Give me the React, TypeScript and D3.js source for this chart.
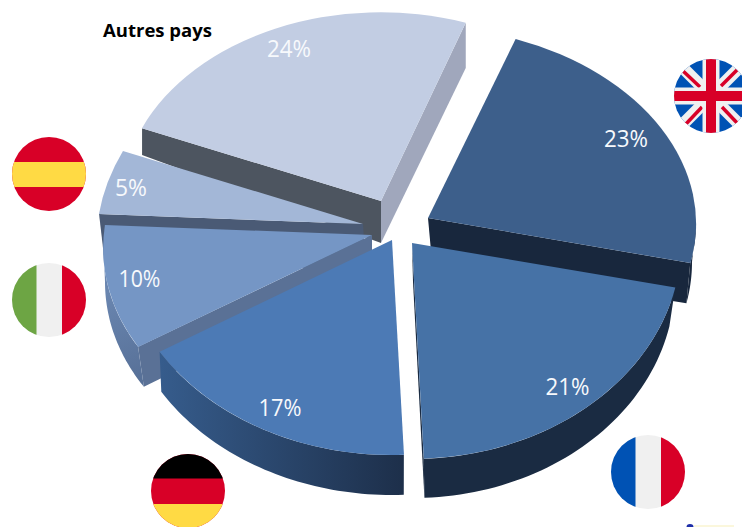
import React from "react";
import * as d3 from "d3";

// ---- data ----
const categories = ["Autres pays", "Royaume-Uni", "France", "Allemagne", "Italie", "Espagne"];
const shares = [24, 23, 21, 17, 10, 5];
const shareLabels = ["24%", "23%", "21%", "17%", "10%", "5%"];

// ---- layout (perspective of each exploded slice) ----
type Proj = { cx: number; cy: number; rx: number; ry: number; sk: number; xs: number };
const topFaces: Proj[] = [
  { cx: 381, cy: 201, rx: 259, ry: 188.7, sk: 0, xs: 0 },
  { cx: 428, cy: 218, rx: 268, ry: 191.5, sk: 5.7, xs: 0 },
  { cx: 412, cy: 243, rx: 269, ry: 216, sk: 0, xs: 0 },
  { cx: 392, cy: 240, rx: 272, ry: 215, sk: 0, xs: 0 },
  { cx: 372, cy: 235, rx: 268.6, ry: 204, sk: -6.8, xs: 8.5 },
  { cx: 363, cy: 224, rx: 266, ry: 205.6, sk: -6.9, xs: 14.2 },
];
const bottomFaces: Proj[] = [
  { cx: 381, cy: 243, rx: 259, ry: 190.6, sk: 15.6, xs: 0 },
  { cx: 432, cy: 262, rx: 260, ry: 200, sk: 0, xs: 0 },
  { cx: 413, cy: 282, rx: 262, ry: 216, sk: 0, xs: 0 },
  { cx: 392, cy: 280, rx: 270, ry: 215, sk: 0, xs: 0 },
  { cx: 372, cy: 275, rx: 267, ry: 204, sk: -6.8, xs: 0 },
  { cx: 366, cy: 272, rx: 263, ry: 200, sk: 0, xs: 0 },
];
const topColors = ["#c2cde3", "#3d5f8b", "#4672a6", "#4c7ab5", "#7596c5", "#a3b7d7"];
const rimFills = ["#a0a7bc", "#18273d", "#1a2b42", "url(#rimDe)", "url(#rimIt)", "#4a5a75"];
const startCutFills = ["#4d5560", "", "", "", "#5a7196", "#4a5a75"];
const endCutFills = ["#a0a7bc", "#18273d", "#1a2b42", "", "", ""];
const labelX = [289, 626, 567.5, 280, 139.5, 131];
const labelBaseline = [57, 147, 395, 416, 287, 196];
const labelWidth = [44, 44, 44, 43, 42, 32];
const drawOrder = [0, 5, 1, 4, 3, 2];

const deg = Math.PI / 180;
const pie = d3.pie<number>().sort(null).startAngle(-67.3 * deg).endAngle(292.7 * deg);
const arcs = pie(shares);
const unitArc = d3.arc<d3.PieArcDatum<number>>().innerRadius(0).outerRadius(1);
const polyLine = d3.line<[number, number]>().curve(d3.curveLinear);

const project = (p: Proj, a: number): [number, number] => [
  p.cx + p.rx * Math.sin(a) + p.xs * Math.cos(a),
  p.cy - p.ry * Math.cos(a) + p.sk * Math.sin(a),
];
const centre = (p: Proj): [number, number] => [p.cx, p.cy];

function rimPath(i: number): string | null {
  const a0 = Math.max(arcs[i].startAngle, 90 * deg);
  const a1 = Math.min(arcs[i].endAngle, 270 * deg);
  if (a1 <= a0) return null;
  const n = 48;
  const angles = d3.range(n + 1).map((k) => a0 + ((a1 - a0) * k) / n);
  const pts = [
    ...angles.map((a) => project(topFaces[i], a)),
    ...angles.slice().reverse().map((a) => project(bottomFaces[i], a)),
  ];
  return polyLine(pts) + "Z";
}
function cutPath(i: number, a: number): string {
  return (
    polyLine([
      centre(topFaces[i]),
      project(topFaces[i], a),
      project(bottomFaces[i], a),
      centre(bottomFaces[i]),
    ]) + "Z"
  );
}

const BLUE = "#0052b4", WHITE = "#f0f0f0", RED = "#d80027", GREEN = "#6da544", YELLOW = "#ffda44";
const R = 37;

function Flag({ id, cx, cy, children }: { id: string; cx: number; cy: number; children: React.ReactNode }) {
  return (
    <g transform={`translate(${cx},${cy})`} clipPath={`url(#${id})`}>
      <clipPath id={id}>
        <circle r={R} />
      </clipPath>
      {children}
    </g>
  );
}
const Band = ({ x, y, w, h, f }: any) => <rect x={x} y={y} width={w} height={h} fill={f} />;

export default function App() {
  return (
    <svg
      width={742}
      height={527}
      style={{ position: "absolute", left: 0, top: 0, background: "#fff", display: "block" }}
      fontFamily="'Open Sans', sans-serif"
    >
      <defs>
        <linearGradient id="rimDe" gradientUnits="userSpaceOnUse" x1={160} x2={404} y1={0} y2={0}>
          <stop offset="0" stopColor="#365c8c" />
          <stop offset="1" stopColor="#1d2f4a" />
        </linearGradient>
        <linearGradient id="rimIt" gradientUnits="userSpaceOnUse" x1={105} x2={145} y1={290} y2={385}>
          <stop offset="0" stopColor="#6a86b0" />
          <stop offset="1" stopColor="#566f96" />
        </linearGradient>
      </defs>

      {drawOrder.map((i) => {
        const t = topFaces[i];
        const rim = rimPath(i);
        return (
          <g key={categories[i]}>
            {startCutFills[i] && <path d={cutPath(i, arcs[i].startAngle)} fill={startCutFills[i]} />}
            {endCutFills[i] && <path d={cutPath(i, arcs[i].endAngle)} fill={endCutFills[i]} />}
            {rim && <path d={rim} fill={rimFills[i]} />}
            <path
              d={unitArc(arcs[i]) as string}
              transform={`matrix(${t.rx},${t.sk},${-t.xs},${t.ry},${t.cx},${t.cy})`}
              fill={topColors[i]}
            />
          </g>
        );
      })}

      {shareLabels.map((s, i) => (
        <text
          key={s}
          x={labelX[i]}
          y={labelBaseline[i]}
          textAnchor="middle"
          fontSize={23}
          fontWeight={400}
          fill="#f7f9fc"
          textLength={labelWidth[i]}
          lengthAdjust="spacingAndGlyphs"
        >
          {s}
        </text>
      ))}

      <text x={103} y={37} fontSize={18.5} fontWeight={700} fill="#000" textLength={109} lengthAdjust="spacingAndGlyphs">
        Autres pays
      </text>

      <Flag id="fES" cx={49} cy={174}>
        <Band x={-R} y={-R} w={2 * R} h={2 * R} f={RED} />
        <Band x={-R} y={-12} w={2 * R} h={25} f={YELLOW} />
      </Flag>
      <Flag id="fIT" cx={49} cy={300}>
        <Band x={-R} y={-R} w={2 * R} h={2 * R} f={WHITE} />
        <Band x={-R} y={-R} w={24.5} h={2 * R} f={GREEN} />
        <Band x={13} y={-R} w={24} h={2 * R} f={RED} />
      </Flag>
      <Flag id="fDE" cx={188} cy={491}>
        <Band x={-R} y={-R} w={2 * R} h={2 * R} f={RED} />
        <Band x={-R} y={-R} w={2 * R} h={24.5} f="#000" />
        <Band x={-R} y={13} w={2 * R} h={24} f={YELLOW} />
      </Flag>
      <Flag id="fFR" cx={648} cy={472}>
        <Band x={-R} y={-R} w={2 * R} h={2 * R} f={WHITE} />
        <Band x={-R} y={-R} w={24.5} h={2 * R} f={BLUE} />
        <Band x={13} y={-R} w={24} h={2 * R} f={RED} />
      </Flag>
      <Flag id="fUK" cx={711} cy={96}>
        <Band x={-R} y={-R} w={2 * R} h={2 * R} f={BLUE} />
        <g stroke={WHITE} strokeWidth={12}>
          <line x1={-R} y1={-R} x2={R} y2={R} />
          <line x1={-R} y1={R} x2={R} y2={-R} />
        </g>
        <g stroke={RED} strokeWidth={3.5}>
          <line x1={-29} y1={-26} x2={-11} y2={-9} />
          <line x1={10} y1={-10} x2={26} y2={-26} />
          <line x1={-26} y1={29} x2={-9} y2={11} />
          <line x1={11} y1={11} x2={28} y2={29} />
        </g>
        <Band x={-8.5} y={-R} w={17} h={2 * R} f={WHITE} />
        <Band x={-R} y={-8.5} w={2 * R} h={17} f={WHITE} />
        <Band x={-5} y={-R} w={10} h={2 * R} f={RED} />
        <Band x={-R} y={-5} w={2 * R} h={10} f={RED} />
      </Flag>

      <ellipse cx={690} cy={527} rx={3.5} ry={3} fill="#1f2fa8" />
      <rect x={694} y={525} width={40} height={2} fill="#fbf7dc" />
    </svg>
  );
}
